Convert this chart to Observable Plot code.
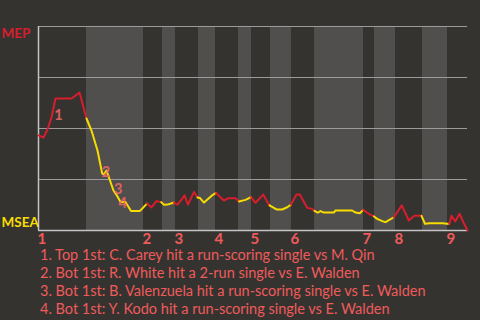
<!DOCTYPE html>
<html>
<head>
<meta charset="utf-8">
<script src="https://cdn.jsdelivr.net/npm/d3@7"></script>
<script src="https://cdn.jsdelivr.net/npm/@observablehq/plot@0.6"></script>
<style>
  html, body { margin: 0; padding: 0; background: #353330; }
  body { width: 480px; height: 320px; overflow: hidden; font-family: Lato, "Open Sans", sans-serif; }
  #caption { color: #ef5b5b; font-size: 14.5px; line-height: 18px; padding-left: 40px; margin-top: 0px; }
  svg { display: block; }
</style>
</head>
<body>
<div id="chart"></div>
<div id="caption"></div>
<script>
// Game progress (0-100) and win probability for MEP (0 = MSEA wins, 1 = MEP wins)
const progress = [0, 1.17, 2.10, 3.03, 3.96, 7.69, 9.56, 11.19, 12.35, 13.75, 14.85, 15.27, 15.85, 17.48, 18.41, 19.11, 20.28, 21.56, 23.66,
  25.29, 26.34, 27.51, 28.60, 29.25, 30.07, 31.59, 32.40, 33.57, 34.03, 34.85, 36.25, 37.06, 37.65, 38.58, 40.44, 41.38,
  43.19, 44.13, 45.92, 46.74, 48.25, 49.53, 50.58, 52.38, 53.38, 53.85, 55.48, 56.81, 57.97, 58.86, 60.14, 60.91, 62.63,
  63.80, 64.34, 65.10, 65.73, 66.50, 68.83, 69.23, 73.12, 73.89, 74.90, 75.69, 77.00, 78.21, 78.95, 80.12, 80.89, 82.83,
  84.69, 86.32, 87.58, 89.28, 90.09, 91.14, 94.17, 95.73, 96.27, 97.13, 98.14, 99.18, 100];
const winProb = [0.466, 0.456, 0.495, 0.554, 0.647, 0.647, 0.676, 0.549, 0.490, 0.392, 0.279, 0.275, 0.294, 0.196, 0.167, 0.140, 0.140, 0.096, 0.096,
  0.132, 0.113, 0.144, 0.139, 0.126, 0.127, 0.137, 0.127, 0.157, 0.172, 0.127, 0.189, 0.162, 0.159, 0.137, 0.172, 0.184,
  0.147, 0.158, 0.158, 0.142, 0.150, 0.164, 0.136, 0.176, 0.139, 0.123, 0.103, 0.103, 0.114, 0.127, 0.176, 0.176, 0.111,
  0.106, 0.096, 0.087, 0.095, 0.088, 0.088, 0.098, 0.098, 0.088, 0.085, 0.101, 0.082, 0.069, 0.057, 0.046, 0.041, 0.065,
  0.123, 0.049, 0.072, 0.072, 0.033, 0.036, 0.036, 0.032, 0.072, 0.044, 0.082, 0.034, 0];

// Innings: start of each inning and start of its bottom half
const inningLabels = ["1", "2", "3", "4", "5", "6", "7", "8", "9"];
const inningStart = [0, 24.48, 31.93, 41.26, 49.65, 58.97, 75.76, 83.22, 95.34];
const bottomStart = [11.19, 28.90, 37.30, 46.62, 54.08, 64.34, 78.32, 89.51];
const gameEnd = 100;

// Key events
const eventLabels = ["1", "2", "3", "4"];
const eventX = [4.66, 15.74, 18.58, 19.65];
const eventY = [0.564, 0.286, 0.204, 0.131];
const eventText = [
  "1. Top 1st: C. Carey hit a run-scoring single vs M. Qin",
  "2. Bot 1st: R. White hit a 2-run single vs E. Walden",
  "3. Bot 1st: B. Valenzuela hit a run-scoring single vs E. Walden",
  "4. Bot 1st: Y. Kodo hit a run-scoring single vs E. Walden"
];
const teams = ["MEP", "MSEA"];

const RED = "#d81e2c", YELLOW = "#f7dc00", PINK = "#ef5b5b";

const bands = bottomStart.map((b, i) => ({x1: b, x2: inningStart[i + 1] ?? gameEnd}));
const isBottom = x => bands.some(b => x >= b.x1 && x < b.x2);

// split the line into runs by half-inning
const rows = [];
let run = -1, prevHalf = null;
for (let i = 0; i < progress.length - 1; i++) {
  const mid = (progress[i] + progress[i + 1]) / 2;
  const half = isBottom(mid);
  if (half !== prevHalf) {
    run++;
    prevHalf = half;
    rows.push({x: progress[i], y: winProb[i], run, half});
  }
  rows.push({x: progress[i + 1], y: winProb[i + 1], run, half});
}

const innings = inningLabels.map((l, i) => ({x: inningStart[i], label: l}));
const events = eventLabels.map((l, i) => ({x: eventX[i], y: eventY[i], label: l}));

const chart = Plot.plot({
  width: 480,
  height: 246,
  marginLeft: 38,
  marginRight: 13,
  marginTop: 26,
  marginBottom: 16,
  x: {domain: [0, gameEnd], axis: null},
  y: {domain: [0, 1], axis: null},
  style: {background: "#353330", overflow: "visible"},
  marks: [
    Plot.rectX(bands, {x1: "x1", x2: "x2", fill: "#504f4d"}),
    Plot.ruleY([0.25, 0.5, 0.75, 1], {stroke: "#9b9b9b", strokeWidth: 1}),
    Plot.ruleY([0], {stroke: "#c4c4c4", strokeWidth: 1.5}),
    Plot.ruleX([0], {stroke: "#c4c4c4", strokeWidth: 1.5}),
    Plot.line(rows, {x: "x", y: "y", z: "run", stroke: d => d.half ? YELLOW : RED, strokeWidth: 2, curve: "linear"}),
    Plot.text(events, {x: "x", y: "y", text: "label", fill: "#f06666", fillOpacity: 0.9, fontSize: 14.5, fontWeight: "bold", fontFamily: "Lato"}),
    Plot.text(innings, {x: "x", y: () => 0, text: "label", fill: PINK, fontSize: 15, fontWeight: "bold", fontFamily: "Lato", textAnchor: "start", dx: -1, dy: 9}),
    Plot.text([teams[0]], {x: () => 0, y: () => 1, text: d => d, fill: RED, fontSize: 13.5, fontWeight: "bold", fontFamily: "Lato", textAnchor: "start", dx: -37, dy: 7}),
    Plot.text([teams[1]], {x: () => 0, y: () => 0, text: d => d, fill: YELLOW, fontSize: 13.5, fontWeight: "bold", fontFamily: "Lato", textAnchor: "start", dx: -37, dy: -8})
  ]
});
document.getElementById("chart").append(chart);
const cap = document.getElementById("caption");
eventText.forEach(t => { const d = document.createElement("div"); d.textContent = t; cap.append(d); });
</script>
</body>
</html>
